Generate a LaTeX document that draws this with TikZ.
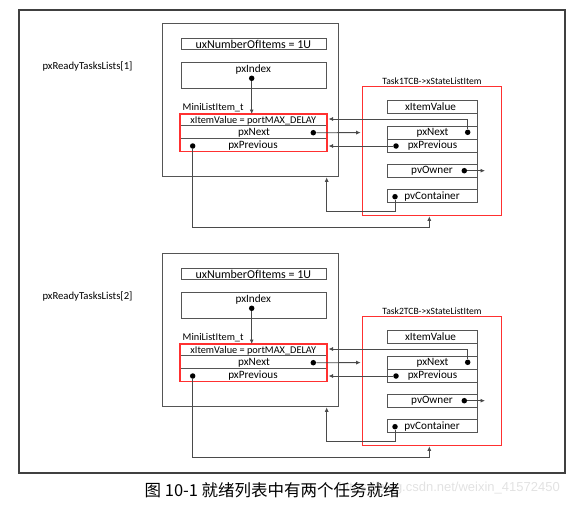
\documentclass[tikz,border=0pt]{standalone}
\usepackage{fontspec}
\setmainfont{Carlito}
\newfontfamily\cjk{Noto Sans CJK SC}
\newfontfamily\wmfont{Liberation Sans}
\usetikzlibrary{arrows.meta}
\definecolor{frame}{HTML}{404040}
\definecolor{boxline}{HTML}{555555}
\definecolor{redline}{HTML}{FF3030}
\definecolor{connc}{HTML}{4A4A4A}
\definecolor{wm}{HTML}{E2E2E2}
\tikzset{
 ibox/.style={draw=boxline, line width=0.8pt, anchor=north west, inner sep=0pt},
 rowbox/.style={anchor=north west, inner sep=0pt, minimum width=146.7pt},
 redbox/.style={anchor=north west, inner sep=0pt},
 redline style/.style={draw=redline, line width=1.4pt},
 txt/.style={font=\fontsize{11.2}{13}\selectfont, inner sep=0pt, text=black},
 bigtxt/.style={font=\fontsize{12}{13}\selectfont, inner sep=0pt, text=black},
 lbltxt/.style={font=\fontsize{10.7}{12}\selectfont, inner sep=0pt, text=black},
 midtxt/.style={font=\fontsize{10.3}{12}\selectfont, inner sep=0pt, text=black},
 smalltxt/.style={font=\fontsize{9.6}{11}\selectfont, inner sep=0pt, text=black},
 dotn/.style={circle, fill=black, inner sep=0pt, minimum size=5.5pt},
 arr/.style={draw=connc, line width=0.8pt, -{Latex[length=4.5pt,width=4pt]}},
}
\begin{document}
\begin{tikzpicture}[x=1pt,y=-1pt]
\useasboundingbox (0,0) rectangle (571,506);
\node[draw=frame, line width=1.6pt, anchor=north west, minimum width=546pt, minimum height=463pt, inner sep=0pt] (outer) at (18,9) {};
\foreach \i/\dy in {1/0,2/230}{
\begin{scope}[shift={(0,\dy)}]
 % list structure
 \node[lbltxt] (R\i) at (87.5,66.7) {pxReadyTasksLists[\i]};
 \node[draw=boxline, line width=1pt, anchor=north west, inner sep=0pt, minimum width=176pt, minimum height=152.7pt] (L\i) at (161.7,23.3) {};
 \node[ibox, minimum width=144.7pt, minimum height=11pt] (U\i) at (181,38.3) {};
 \node[bigtxt] (Ut\i) at (253.3,44) {uxNumberOfItems = 1U};
 \node[ibox, minimum width=144.7pt, minimum height=26.6pt] (I\i) at (181,61.7) {};
 \node[txt] (It\i) at (253.3,69.3) {pxIndex};
 \node[dotn] (Id\i) at (251.7,78.3) {};
 \node[midtxt, anchor=west] (M\i) at (182.5,107.3) {MiniListItem\_t};
 % mini list item
 \node[rowbox, minimum height=11.7pt] (X\i) at (180,114) {};
 \node[rowbox, minimum height=12.6pt] (N\i) at (180,125.7) {};
 \node[rowbox, minimum height=13pt] (P\i) at (180,138.3) {};
 \draw[boxline, line width=0.8pt] (N\i.north west) -- (N\i.north east) (P\i.north west) -- (P\i.north east);
 \node[redbox, minimum width=146.7pt, minimum height=37.3pt] (RB\i) at (180,114) {};
 \draw[redline style] (RB\i.north west) rectangle (RB\i.south east);
 \node[midtxt] (Xt\i) at (253.3,120.3) {xItemValue = portMAX\_DELAY};
 \node[txt] (Nt\i) at (254,133.2) {pxNext};
 \node[txt] (Pt\i) at (253,145.9) {pxPrevious};
 \node[dotn] (Nd\i) at (313.3,132.7) {};
 \node[dotn] (Pd\i) at (192.7,146) {};
 % TCB list item
 \node[smalltxt] (T\i) at (432,81) {Task\i TCB->xStateListItem};
 \node[redbox, minimum width=138.3pt, minimum height=128.3pt] (TB\i) at (362.7,86.7) {};
 \draw[redline style] (TB\i.north west) rectangle (TB\i.south east);
 \node[ibox, minimum width=89.4pt, minimum height=13.3pt] (TX\i) at (387.3,100) {};
 \node[ibox, minimum width=89.4pt, minimum height=13.3pt] (TN\i) at (387.3,125.7) {};
 \node[ibox, minimum width=89.4pt, minimum height=12.7pt] (TP\i) at (387.3,139) {};
 \node[ibox, minimum width=89.4pt, minimum height=12.4pt] (TO\i) at (387.3,164.3) {};
 \node[ibox, minimum width=89.4pt, minimum height=13pt] (TC\i) at (387.3,189.3) {};
 \draw[boxline, line width=0.8pt] (TX\i.north east) -- (TC\i.south east);
 \node[txt] (TXt\i) at (430.5,106.7) {xItemValue};
 \node[txt] (TNt\i) at (432.5,132.7) {pxNext};
 \node[txt] (TPt\i) at (432.5,146) {pxPrevious};
 \node[txt] (TOt\i) at (432,170.7) {pvOwner};
 \node[txt] (TCt\i) at (432,196.7) {pvContainer};
 \node[dotn] (TNd\i) at (467.7,132.3) {};
 \node[dotn] (TPd\i) at (396,146) {};
 \node[dotn] (TOd\i) at (464.3,170.7) {};
 \node[dotn] (TCd\i) at (395,196.7) {};
 % connectors
 \coordinate (a\i) at (360.7,132.6);
 \coordinate (b\i) at (328.5,119);
 \coordinate (c\i) at (328.5,146);
 \coordinate (d\i) at (485,170.7);
 \coordinate (e\i) at (326.7,211.5);
 \coordinate (f\i) at (326.7,177.3);
 \coordinate (g\i) at (429.3,227.7);
 \coordinate (h\i) at (429.3,216.3);
 \draw[arr] (Id\i) -- (Id\i |- RB\i.north);
 \draw[arr] (Nd\i) -- (a\i);
 \draw[arr] (TNd\i) |- (b\i);
 \draw[arr] (TPd\i) -- (c\i);
 \draw[arr] (TOd\i) -- (d\i);
 \draw[arr] (TCd\i) |- (e\i) -- (f\i);
 \draw[arr] (Pd\i) |- (g\i) -- (h\i);
\end{scope}
}
\node[font=\wmfont\fontsize{13}{15}\selectfont, text=wm, anchor=east, inner sep=0pt] (wmark) at (560,488.5) {https://blog.csdn.net/weixin\_41572450};
\node[font=\cjk\fontsize{16.5}{18}\selectfont, inner sep=0pt] (cap) at (272.2,490.7) {图 10-1 就绪列表中有两个任务就绪};
\end{tikzpicture}
\end{document}
